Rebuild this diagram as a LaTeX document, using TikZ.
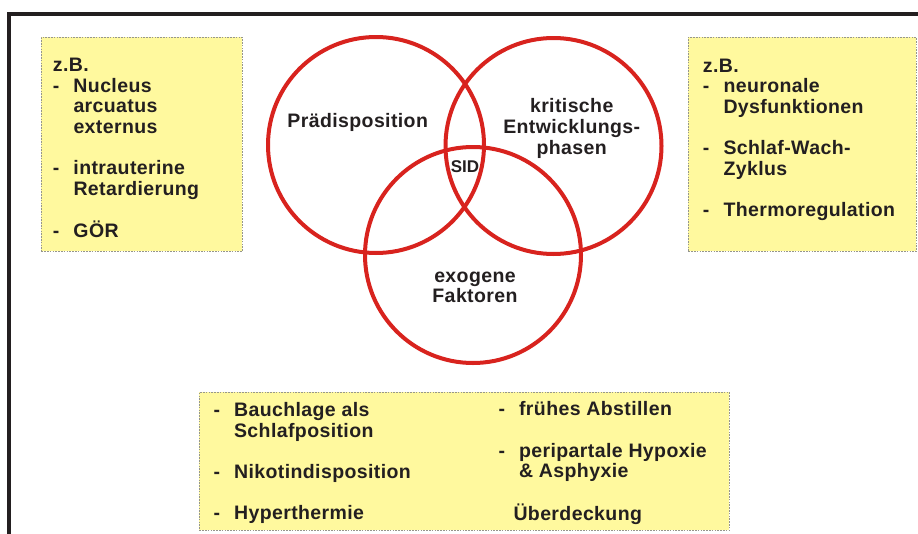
\documentclass[tikz,border=0pt]{standalone}
\usepackage{fontspec}
\setmainfont{Liberation Sans}
\newfontfamily\notefont[LetterSpace=2.0]{Liberation Sans}
\usepackage{tikz}
\usetikzlibrary{positioning,calc}
\usepackage{xcolor}

\definecolor{notefill}{RGB}{255,249,158}
\definecolor{notedash}{RGB}{150,150,140}
\definecolor{ringred}{RGB}{216,35,30}
\definecolor{inkdark}{RGB}{35,31,32}

\newcommand{\itm}[1]{\makebox[20.6pt][l]{-}#1}
\newcommand{\ind}[1]{\hspace*{20.6pt}#1}

\begin{document}
\begin{tikzpicture}[x=1pt,y=-1pt,
    notebox/.style={draw=notedash, fill=notefill, line width=0.8pt,
                    dash pattern=on 1.6pt off 1.2pt, anchor=north west, inner sep=0pt},
    listtext/.style={align=left, anchor=base west, inner sep=0pt, text=inkdark,
                     font=\notefont\bfseries\fontsize{19.5}{20.6}\selectfont},
    ring/.style={draw=ringred, line width=4pt, circle, minimum size=216pt, inner sep=0pt},
    ringtext/.style={align=center, inner sep=0pt, text=inkdark,
                     font=\notefont\bfseries\fontsize{19.5}{20.6}\selectfont}]
  \useasboundingbox (0,0) rectangle (918,533);
  \draw[inkdark, line width=4pt] (9,535) |- (920,14);

  \node[notebox, minimum width=201pt, minimum height=214pt] (leftbox) at (41,37) {};
  \node[notebox, minimum width=228pt, minimum height=214pt] (rightbox) at (688,37) {};
  \node[notebox, minimum width=530pt, minimum height=138pt] (bottombox) at (199,392) {};

  \node[listtext] (leftlist) at (52.7,237.5) {z.B.\\ \itm{Nucleus}\\ \ind{arcuatus}\\ \ind{externus}\\[20.6pt]
    \itm{intrauterine}\\ \ind{Retardierung}\\[20.6pt] \itm{GÖR}};
  \node[listtext] (rightlist) at (702.7,216.5) {z.B.\\ \itm{neuronale}\\ \ind{Dysfunktionen}\\[20.6pt]
    \itm{Schlaf-Wach-}\\ \ind{Zyklus}\\[20.6pt] \itm{Thermoregulation}};
  \node[listtext] (bottomleft) at (213.3,519.5) {\itm{Bauchlage als}\\ \ind{Schlafposition}\\[20.6pt]
    \itm{Nikotindisposition}\\[20.6pt] \itm{Hyperthermie}};
  \node[listtext] (bottomright) at (498.3,520) {\itm{frühes Abstillen}\\[20.6pt]
    \itm{peripartale Hypoxie}\\ \ind{\& Asphyxie}\\[20.6pt] \hspace*{15pt}Überdeckung};

  \node[ring] (praedisposition) at (376,145) {};
  \node[ring] (phasen) at (553.5,146) {};
  \node[ring] (exogen) at (473,255) {};

  \node[ringtext] (praedtext) at (357.7,122.5) {Prädisposition};
  \node[ringtext] (phasentext) at (571.7,128.5) {kritische\\ Entwicklungs-\\ phasen};
  \node[ringtext] (exogentext) at (475,287.5) {exogene\\ Faktoren};
  \node[ringtext, font=\bfseries\fontsize{17}{20}\selectfont] (sid) at (465,166.5) {SID};
\end{tikzpicture}
\end{document}
